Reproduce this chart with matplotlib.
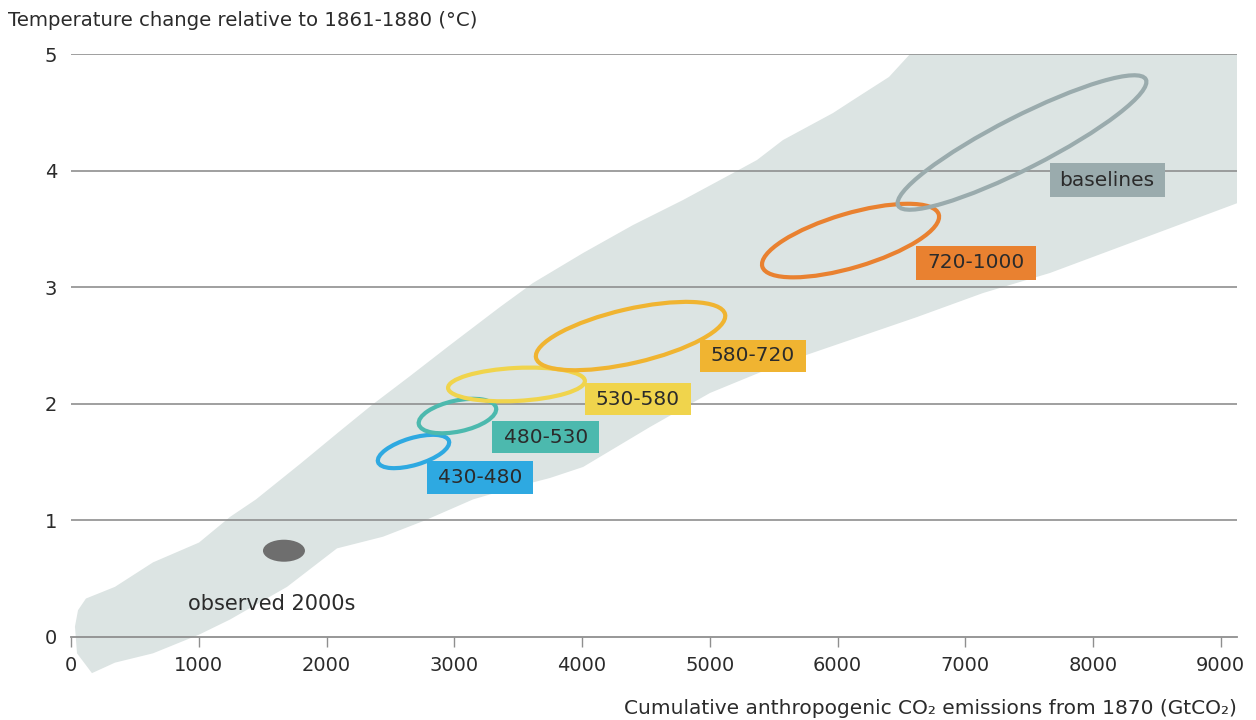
import matplotlib
matplotlib.use("Agg")
import matplotlib.pyplot as plt
from matplotlib.patches import Ellipse, Rectangle
from matplotlib.transforms import ScaledTranslation

# ---------------- data ----------------
plume_upper_x = [164, 47, 31, 55, 117, 344, 642, 1002, 1245, 1448, 1793, 2106, 2356, 2654,
                 2967, 3358, 3616, 4008, 4399, 4791, 5182, 5370, 5573, 5965, 6121, 6403, 6568]
plume_upper_y = [-0.31, -0.14, 0.09, 0.23, 0.33, 0.43, 0.64, 0.81, 1.03, 1.18, 1.484, 1.767, 1.99, 2.238,
                 2.504, 2.83, 3.036, 3.293, 3.533, 3.748, 3.979, 4.091, 4.262, 4.494, 4.605, 4.803, 5.0]
plume_lower_x = [164, 344, 642, 1002, 1245, 1691, 2082, 2442, 2771, 3147, 3491, 3750, 4008,
                 4532, 5002, 5573, 6098, 6622, 7139, 7663, 9127]
plume_lower_y = [-0.31, -0.22, -0.14, 0.02, 0.15, 0.43, 0.76, 0.86, 1.00, 1.18, 1.29, 1.364, 1.458,
                 1.801, 2.093, 2.35, 2.547, 2.744, 2.95, 3.122, 3.72]

scenario_labels = ["430-480", "480-530", "530-580", "580-720", "720-1000", "baselines"]
ellipse_center_x = [2681, 3025, 3487, 4380, 6102, 7444]
ellipse_center_y = [1.591, 1.895, 2.166, 2.581, 3.40, 4.241]
label_x = [3202, 3718, 4438, 5339, 7084, 8110]
label_y = [1.364, 1.715, 2.041, 2.41, 3.208, 3.919]

observed_x = 1667
observed_y = 0.74
observed_label = "observed 2000s"
observed_label_x = 916
observed_label_y = 0.283

x_ticks = [0, 1000, 2000, 3000, 4000, 5000, 6000, 7000, 8000, 9000]
y_ticks = [0, 1, 2, 3, 4, 5]

# ---------------- style ----------------
colors = ["#2ea9e1", "#4cb9ae", "#f0d44c", "#f0b431", "#e98130", "#9aabad"]
ell_semi_major_px = [37, 39.5, 68.5, 97, 92, 139]
ell_semi_minor_px = [13.5, 15.5, 16.5, 27, 27, 26]
ell_angle = [16.5, 12, 3, 13, 16.5, 27]
box_w_px = [106, 107, 106, 106, 120, 115]
box_h_px = [33, 32, 32, 32, 34, 34]

plume_color = "#dce4e3"
grid_color = "#8f8f8f"
text_color = "#2b2b2b"

plt.rcParams["font.family"] = ["DejaVu Sans"]

W, H, DPI = 1256, 720, 100
fig = plt.figure(figsize=(W / DPI, H / DPI), dpi=DPI)
ax = fig.add_axes([71 / W, 1 - 637 / H, (1237 - 71) / W, (637 - 54) / H])
ax.set_xlim(0, 9127)
ax.set_ylim(0, 5)

for s in ["top", "right", "left"]:
    ax.spines[s].set_visible(False)
ax.spines["bottom"].set_color(grid_color)
ax.spines["bottom"].set_linewidth(1.3)
ax.spines["bottom"].set_zorder(2)

# plume
poly_x = plume_upper_x + [9127] + plume_lower_x[::-1]
poly_y = plume_upper_y + [5.0] + plume_lower_y[::-1]
ax.fill(poly_x, poly_y, color=plume_color, lw=0, zorder=0.5, clip_on=False)

# grid lines
for yv in y_ticks[1:]:
    ax.axhline(yv, color=grid_color, lw=1.2, zorder=1)

ax.set_xticks(x_ticks)
ax.set_xticklabels([str(v) for v in x_ticks])
ax.set_yticks(y_ticks)
ax.set_yticklabels([str(v) for v in y_ticks])
ax.tick_params(axis="x", direction="out", length=7.5, width=1.0, color=grid_color,
               labelsize=14, labelcolor=text_color, pad=6)
ax.tick_params(axis="y", length=0, labelsize=14, labelcolor=text_color, pad=10)


def px_transform(x, y):
    return fig.dpi_scale_trans + ScaledTranslation(x, y, ax.transData)


# scenario ellipses
for i in range(len(scenario_labels)):
    e = Ellipse((0, 0), width=2 * ell_semi_major_px[i] / DPI, height=2 * ell_semi_minor_px[i] / DPI,
                angle=ell_angle[i], transform=px_transform(ellipse_center_x[i], ellipse_center_y[i]),
                fill=False, edgecolor=colors[i], lw=3.0, zorder=3)
    ax.add_patch(e)

# labels
for i in range(len(scenario_labels)):
    w = box_w_px[i] / DPI
    h = box_h_px[i] / DPI
    r = Rectangle((-w / 2, -h / 2), w, h, transform=px_transform(label_x[i], label_y[i]),
                  facecolor=colors[i], edgecolor="none", zorder=4)
    ax.add_patch(r)
    ax.text(label_x[i], label_y[i], scenario_labels[i], ha="center", va="center",
            fontsize=14.5, color=text_color, zorder=5)

# observed
obs = Ellipse((0, 0), width=42 / DPI, height=22 / DPI, angle=0,
              transform=px_transform(observed_x, observed_y),
              facecolor="#6e6e6e", edgecolor="none", zorder=3)
ax.add_patch(obs)
ax.text(observed_label_x, observed_label_y, observed_label, ha="left", va="center", fontsize=15,
        color=text_color, zorder=5)

fig.text(8 / W, 1 - 20 / H, "Temperature change relative to 1861-1880 (°C)",
         ha="left", va="center", fontsize=14.2, color=text_color)
fig.text(1237 / W, 1 - 709 / H, "Cumulative anthropogenic CO₂ emissions from 1870 (GtCO₂)",
         ha="right", va="center", fontsize=14.5, color=text_color)

fig.savefig("out.png", dpi=DPI)
